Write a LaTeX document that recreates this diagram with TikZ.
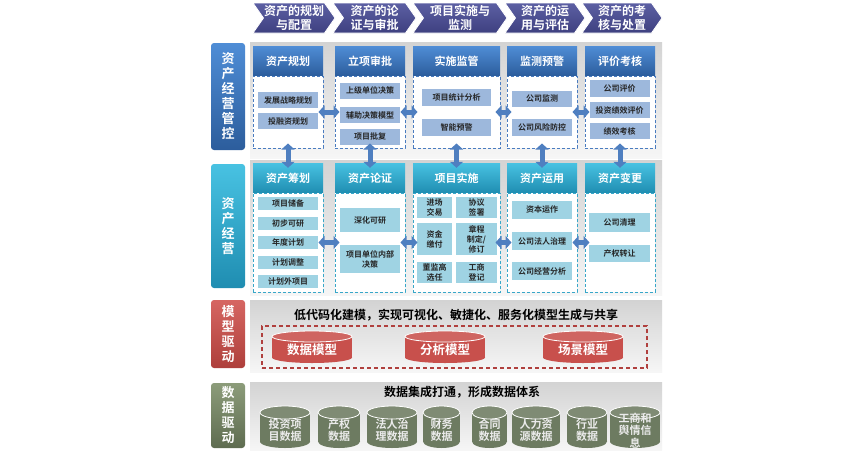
\documentclass[tikz,border=0pt]{standalone}
\usepackage{fontspec}
\setmainfont{Noto Sans CJK SC}[BoldFont={Noto Sans CJK SC Bold}]
\usetikzlibrary{shapes.symbols,arrows.meta}
\definecolor{chevT}{HTML}{5C5FA3}
\definecolor{chevB}{HTML}{3E4080}
\definecolor{hdAT}{HTML}{4F8DD6}
\definecolor{hdAB}{HTML}{2C5D9C}
\definecolor{hdBT}{HTML}{48C2E2}
\definecolor{hdBB}{HTML}{1F8DB1}
\definecolor{dashA}{HTML}{4A7CC0}
\definecolor{dashB}{HTML}{38A7C9}
\definecolor{cItA}{HTML}{9DB8DC}
\definecolor{cItB}{HTML}{9FD3E3}
\definecolor{arrC}{HTML}{4F7FC0}
\definecolor{lRedT}{HTML}{D66662}
\definecolor{lRedB}{HTML}{AE3F3B}
\definecolor{lGrnT}{HTML}{8C9C7A}
\definecolor{lGrnB}{HTML}{5E6C50}
\definecolor{cylRed}{HTML}{C8504C}
\definecolor{cylGrn}{HTML}{6D7B61}
\definecolor{mdash}{HTML}{B0403E}
\definecolor{panT}{HTML}{D3D3D3}
\definecolor{panB}{HTML}{F6F6F6}
\newcommand\drum[9]{%
  \fill[#7] ({#2-#4/2},{#3+#6}) rectangle ({#2+#4/2},{#5-#6});
  \fill[#7] (#2,{#5-#6}) ellipse [x radius={#4/2*1pt}, y radius={#6*1pt}];
  \filldraw[fill=#7!88!white, draw=white, line width=0.8pt] (#2,{#3+#6}) ellipse [x radius={#4/2*1pt}, y radius={#6*1pt}];
  \node[#8] (#1) at (#2,{(#3+#6+#5)/2}) {#9};
}
\begin{document}
\begin{tikzpicture}[x=1pt,y=-1pt,
  chev/.style={signal, signal to=east, signal from=west, signal pointer angle=110,
    draw=white, line width=0.8pt, top color=chevT, bottom color=chevB, text=white,
    font=\bfseries\fontsize{12}{13.5}\selectfont, align=center, minimum height=30pt, inner sep=0pt},
  panel/.style={top color=panT, bottom color=panB, inner sep=0pt, minimum width=412pt},
  lab/.style={rounded corners=3pt, text=white, align=center, minimum width=34pt,
    font=\bfseries\fontsize{13}{15}\selectfont, inner sep=0pt},
  hdA/.style={top color=hdAT, bottom color=hdAB, text=white, minimum height=30pt, inner sep=0pt,
    font=\bfseries\fontsize{11}{13}\selectfont},
  hdB/.style={hdA, top color=hdBT, bottom color=hdBB},
  dbA/.style={draw=dashA, dash pattern=on 3pt off 2pt, line width=1pt, fill=white, inner sep=0pt},
  dbB/.style={dbA, draw=dashB},
  itA/.style={fill=cItA, text=black!85, font=\bfseries\fontsize{8}{10}\selectfont, inner sep=0pt, align=center, minimum width=60pt},
  itB/.style={itA, fill=cItB},
  dbl/.style={line width=5pt, draw=arrC, shorten <=-5pt, shorten >=-5pt,
    {Triangle[width=13pt,length=6pt]}-{Triangle[width=13pt,length=6pt]}},
  mtxt/.style={text=white, font=\bfseries\fontsize{12.5}{14}\selectfont, inner sep=0pt},
  dtxt/.style={text=white!92!black, font=\bfseries\fontsize{11}{12.5}\selectfont, align=center, inner sep=0pt},
  ttl/.style={text=black, font=\bfseries\fontsize{12}{14}\selectfont, inner sep=0pt}
]
\useasboundingbox[fill=white] (0,0) rectangle (845,450);

% chevrons
\node[chev, minimum width=82pt] (s1) at (294,18) {资产的规划\\与配置};
\node[chev, minimum width=83pt] (s2) at (374.5,18) {资产的论\\证与审批};
\node[chev, minimum width=94pt] (s3) at (460,18) {项目实施与\\监测};
\node[chev, minimum width=80pt] (s4) at (545,18) {资产的运\\用与评估};
\node[chev, minimum width=80pt] (s5) at (622,18) {资产的考\\核与处置};

% panels
\node[panel, minimum height=116pt] (P1) at (456,100) {};
\node[panel, minimum height=135pt] (P2) at (456,227.5) {};
\node[panel, minimum height=72pt] (P3) at (456,336) {};
\node[panel, minimum height=68pt] (P4) at (456,416) {};

% left labels
\node[lab, top color=hdAT, bottom color=hdAB, minimum height=107pt] (L1) at (228,96.5) {资\\产\\经\\营\\管\\控};
\node[lab, top color=hdBT, bottom color=hdBB, minimum height=124pt] (L2) at (228,226) {资\\产\\经\\营};
\node[lab, top color=lRedT, bottom color=lRedB, minimum height=68pt] (L3) at (228,334) {模\\型\\驱\\动};
\node[lab, top color=lGrnT, bottom color=lGrnB, minimum height=65pt] (L4) at (228,415.5) {数\\据\\驱\\动};

% ---- top section
\node[hdA, minimum width=70pt] (ha1) at (288,61) {资产规划};
\node[hdA, minimum width=70pt] (ha2) at (370,61) {立项审批};
\node[hdA, minimum width=87pt] (ha3) at (456.5,61) {实施监管};
\node[hdA, minimum width=70pt] (ha4) at (542,61) {监测预警};
\node[hdA, minimum width=70pt] (ha5) at (620,61) {评价考核};
\node[dbA, minimum width=70pt, minimum height=72pt] (da1) at (288,112) {};
\node[dbA, minimum width=70pt, minimum height=72pt] (da2) at (370,112) {};
\node[dbA, minimum width=87pt, minimum height=72pt] (da3) at (456.5,112) {};
\node[dbA, minimum width=70pt, minimum height=72pt] (da4) at (542,112) {};
\node[dbA, minimum width=70pt, minimum height=72pt] (da5) at (620,112) {};

\node[itA, minimum height=16pt] (a11) at (288,100) {发展战略规划};
\node[itA, minimum height=16pt] (a12) at (288,121) {投融资规划};
\node[itA, minimum height=16pt] (a21) at (370,90.5) {上级单位决策};
\node[itA, minimum height=16pt] (a22) at (370,115) {辅助决策模型};
\node[itA, minimum height=16pt] (a23) at (370,136.5) {项目批复};
\node[itA, minimum height=17pt, minimum width=69pt] (a31) at (456.5,97.5) {项目统计分析};
\node[itA, minimum height=17pt, minimum width=69pt] (a32) at (456.5,127.5) {智能预警};
\node[itA, minimum height=16pt] (a41) at (542,98.5) {公司监测};
\node[itA, minimum height=17pt] (a42) at (542,127.5) {公司风险防控};
\node[itA, minimum height=17pt] (a51) at (619.5,88.5) {公司评价};
\node[itA, minimum height=16pt] (a52) at (619.5,110) {投资绩效评价};
\node[itA, minimum height=16pt] (a53) at (619.5,131) {绩效考核};

% ---- bottom section
\node[hdB, minimum width=70pt] (hb1) at (288,178) {资产筹划};
\node[hdB, minimum width=70pt] (hb2) at (370,178) {资产论证};
\node[hdB, minimum width=87pt] (hb3) at (456.5,178) {项目实施};
\node[hdB, minimum width=70pt] (hb4) at (542,178) {资产运用};
\node[hdB, minimum width=70pt] (hb5) at (620,178) {资产变更};
\node[dbB, minimum width=70pt, minimum height=99pt] (db1) at (288,242.5) {};
\node[dbB, minimum width=70pt, minimum height=99pt] (db2) at (370,242.5) {};
\node[dbB, minimum width=87pt, minimum height=99pt] (db3) at (456.5,242.5) {};
\node[dbB, minimum width=70pt, minimum height=99pt] (db4) at (542,242.5) {};
\node[dbB, minimum width=70pt, minimum height=99pt] (db5) at (620,242.5) {};

\node[itB, minimum height=13pt] (b11) at (288,203.5) {项目储备};
\node[itB, minimum height=13pt] (b12) at (288,223) {初步可研};
\node[itB, minimum height=13pt] (b13) at (288,242.5) {年度计划};
\node[itB, minimum height=13pt] (b14) at (288,262) {计划调整};
\node[itB, minimum height=13pt] (b15) at (288,281.5) {计划外项目};
\node[itB, minimum height=24pt] (b21) at (370,220) {深化可研};
\node[itB, minimum height=28pt] (b22) at (370,259) {项目单位内部\\决策};
\node[itB, minimum width=35pt, minimum height=21pt] (b31) at (434.5,207.5) {进场\\交易};
\node[itB, minimum width=41pt, minimum height=21pt] (b32) at (476.5,207.5) {协议\\签署};
\node[itB, minimum width=35pt, minimum height=32pt] (b33) at (434.5,239) {资金\\缴付};
\node[itB, minimum width=41pt, minimum height=32pt] (b34) at (476.5,239) {章程\\制定/\\修订};
\node[itB, minimum width=35pt, minimum height=21pt] (b35) at (434.5,272.5) {董监高\\选任};
\node[itB, minimum width=41pt, minimum height=21pt] (b36) at (476.5,272.5) {工商\\登记};
\node[itB, minimum height=18pt] (b41) at (542,210) {资本运作};
\node[itB, minimum height=18pt] (b42) at (542,241) {公司法人治理};
\node[itB, minimum height=18pt] (b43) at (542,271) {公司经营分析};
\node[itB, minimum height=19pt, minimum width=61pt] (b51) at (619.5,222.5) {公司清理};
\node[itB, minimum height=17pt, minimum width=61pt] (b52) at (619.5,253.5) {产权转让};

% arrows
\draw[dbl] (da1.east) -- (da2.west);
\draw[dbl] (da2.east) -- (da3.west);
\draw[dbl] (da3.east) -- (da4.west);
\draw[dbl] (da4.east) -- (da5.west);
\draw[dbl] (db1.east) -- (db2.west);
\draw[dbl] (db2.east) -- (db3.west);
\draw[dbl] (db3.east) -- (db4.west);
\draw[dbl] (db4.east) -- (db5.west);
\draw[dbl] (da1.south) -- (hb1.north);
\draw[dbl] (da2.south) -- (hb2.north);
\draw[dbl] (da3.south) -- (hb3.north);
\draw[dbl] (da4.south) -- (hb4.north);
\draw[dbl] (da5.south) -- (hb5.north);

% ---- model section
\node[ttl] (mt) at (456,315) {低代码化建模，实现可视化、敏捷化、服务化模型生成与共享};
\node[draw=mdash, dash pattern=on 4pt off 3pt, line width=1.2pt, minimum width=385pt, minimum height=42pt, inner sep=0pt] (mr) at (454.5,347) {};
\drum{m1}{312}{331}{80}{363}{5.5}{cylRed}{mtxt}{数据模型}
\drum{m2}{445}{331}{80}{363}{5.5}{cylRed}{mtxt}{分析模型}
\drum{m3}{583}{331}{80}{363}{5.5}{cylRed}{mtxt}{场景模型}

% ---- data section
\node[ttl] (dt) at (462,392) {数据集成打通，形成数据体系};
\drum{c1}{285}{406}{50}{448}{6.5}{cylGrn}{dtxt}{投资项\\目数据}
\drum{c2}{339}{406}{42}{448}{6.5}{cylGrn}{dtxt}{产权\\数据}
\drum{c3}{392}{406}{50}{448}{6.5}{cylGrn}{dtxt}{法人治\\理数据}
\drum{c4}{441.5}{406}{37}{448}{6.5}{cylGrn}{dtxt}{财务\\数据}
\drum{c5}{489.5}{406}{35}{448}{6.5}{cylGrn}{dtxt}{合同\\数据}
\drum{c6}{536}{406}{48}{448}{6.5}{cylGrn}{dtxt}{人力资\\源数据}
\drum{c7}{587}{406}{40}{448}{6.5}{cylGrn}{dtxt}{行业\\数据}
\drum{c8}{635}{406}{50}{448}{6.5}{cylGrn}{dtxt}{工商和\\舆情信\\息}
\end{tikzpicture}
\end{document}
